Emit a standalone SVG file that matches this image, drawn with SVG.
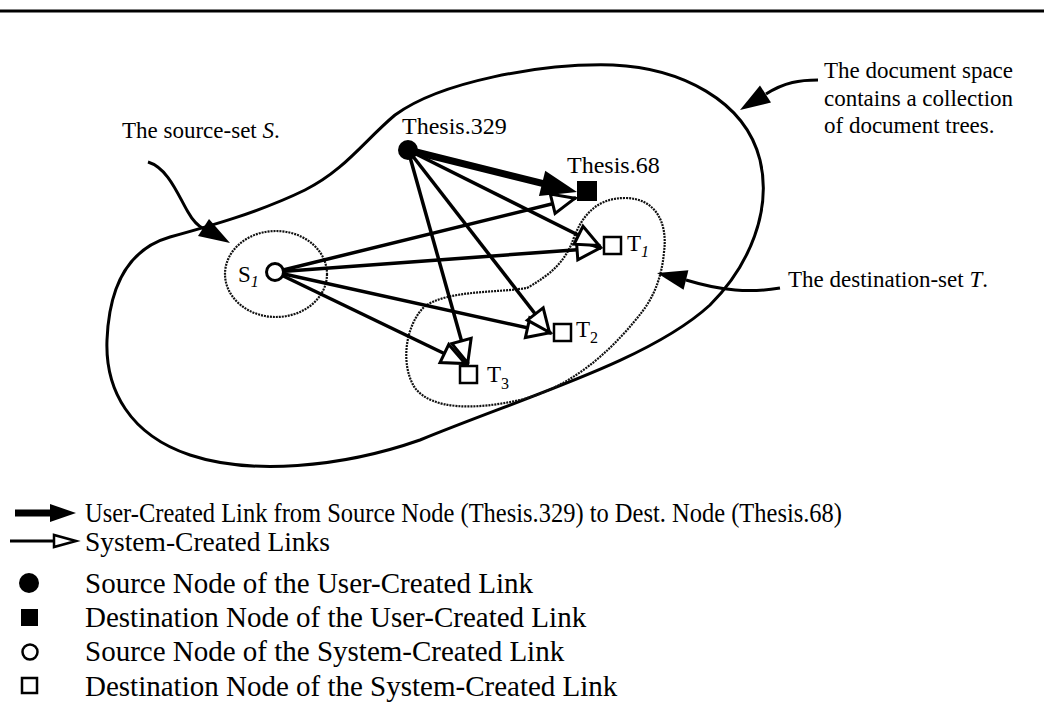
<svg xmlns="http://www.w3.org/2000/svg" width="1044" height="718" viewBox="0 0 1044 718">
  <style>
    .txt { font-family: "Liberation Serif", "Times New Roman", serif; fill: #000; }
    .ann { font-size: 23px; }
    .lbl { font-size: 24px; }
    .leg { font-size: 29px; }
    .leg2 { font-size: 27px; }
    .sys { stroke: #000; stroke-width: 3.5; fill: none; marker-end: url(#openHead); }
    .usr { stroke: #000; stroke-width: 7; fill: none; marker-end: url(#solidHead); }
    .set { fill: none; stroke: #111; stroke-width: 2.2; stroke-dasharray: 2 1; }
    .curve { fill: none; stroke: #000; stroke-width: 3; }
  </style>
  <defs>
    <marker id="openHead" markerUnits="userSpaceOnUse" markerWidth="40" markerHeight="40" viewBox="-30 -20 40 40" refX="0" refY="0" orient="auto" overflow="visible">
      <path d="M-1,0 L-24,-10 L-24,10 Z" fill="#fff" stroke="#000" stroke-width="3"/>
    </marker>
    <marker id="solidHead" markerUnits="userSpaceOnUse" markerWidth="60" markerHeight="40" viewBox="-30 -20 60 40" refX="0" refY="0" orient="auto" overflow="visible">
      <path d="M16,0 L-20,-13 L-20,13 Z" fill="#000"/>
    </marker>
  </defs>

  <rect width="1044" height="718" fill="#fff"/>

  <!-- top rule -->
  <line x1="0" y1="11" x2="1044" y2="11" stroke="#000" stroke-width="3"/>

  <!-- document space outline -->
  <path id="doc-space" class="curve" d="M613,65 C680,68 745,100 760,160 C772,210 750,265 710,305 C650,360 530,395 420,440 C340,468 250,475 190,455 C130,435 105,390 107,340 C109,290 125,250 170,237 C210,226 260,212 305,190 C345,170 365,140 395,115 C440,82 540,63 613,65 Z"/>

  <!-- source set S and destination set T -->
  <ellipse id="source-set" class="set" cx="276" cy="274" rx="51" ry="43"/>
  <path id="dest-set" class="set" d="M527,288 C550,275 565,262 573,240 C582,215 597,198 625,198 C655,198 668,222 664,252 C662,275 655,295 642,312 C620,340 580,385 520,400 C475,410 432,410 415,388 C400,365 405,325 425,306 C450,290 495,293 527,288 Z"/>

  <!-- links -->
  <g id="connectors">
    <line class="sys" x1="275" y1="272" x2="576" y2="198"/>
    <line class="sys" x1="275" y1="272" x2="601" y2="248"/>
    <line class="sys" x1="275" y1="272" x2="551" y2="333"/>
    <line class="sys" x1="275" y1="272" x2="466" y2="364"/>
    <line class="sys" x1="408" y1="150" x2="600" y2="246"/>
    <line class="sys" x1="408" y1="150" x2="550" y2="333"/>
    <line class="sys" x1="408" y1="150" x2="468" y2="364"/>
    <line class="usr" x1="408" y1="150" x2="561.5" y2="188.1"/>
  </g>

  <!-- nodes -->
  <g id="thesis-329">
    <circle cx="408" cy="150" r="10" fill="#000"/>
    <text class="txt lbl" x="402" y="134">Thesis.329</text>
  </g>
  <g id="thesis-68">
    <rect x="577" y="181" width="20" height="20" fill="#000"/>
    <text class="txt lbl" x="567" y="173">Thesis.68</text>
  </g>
  <g id="s1">
    <circle cx="275" cy="272" r="8.5" fill="#fff" stroke="#000" stroke-width="3"/>
    <text class="txt" x="238" y="282" font-size="23">S<tspan font-size="16" font-style="italic" dy="5">1</tspan></text>
  </g>
  <g id="t1">
    <rect x="604" y="237" width="17" height="17" fill="#fff" stroke="#000" stroke-width="2.5"/>
    <text class="txt" x="627" y="251" font-size="23">T<tspan font-size="16" font-style="italic" dy="6">1</tspan></text>
  </g>
  <g id="t2">
    <rect x="554" y="324" width="17" height="17" fill="#fff" stroke="#000" stroke-width="2.5"/>
    <text class="txt" x="576" y="337" font-size="23">T<tspan font-size="16" dy="6">2</tspan></text>
  </g>
  <g id="t3">
    <rect x="460" y="366" width="17" height="17" fill="#fff" stroke="#000" stroke-width="2.5"/>
    <text class="txt" x="487" y="382" font-size="23">T<tspan font-size="16" dy="7">3</tspan></text>
  </g>

  <!-- annotations -->
  <g id="note-source">
    <text class="txt ann" x="122" y="138">The source-set <tspan font-style="italic">S</tspan>.</text>
    <path class="curve" d="M148,162 C168,168 178,195 188,212 C193,221 198,226 204,229"/>
    <polygon points="230,243 198,236 209,219" fill="#000"/>
  </g>
  <g id="note-space">
    <text class="txt ann" x="824" y="78">The document space</text>
    <text class="txt ann" x="824" y="106">contains a collection</text>
    <text class="txt ann" x="824" y="133">of document trees.</text>
    <path class="curve" d="M818,80 C800,80 785,82 766,94"/>
    <polygon points="740,110 771,102.5 760,85.5" fill="#000"/>
  </g>
  <g id="note-dest">
    <text class="txt ann" x="788" y="287">The destination-set <tspan font-style="italic">T</tspan>.</text>
    <path class="curve" d="M780,288 C750,293 722,291 686,280"/>
    <polygon points="657,273 688.4,270.3 683.6,289.7" fill="#000"/>
  </g>

  <!-- legend -->
  <g id="legend">
    <line x1="15" y1="513" x2="52" y2="513" stroke="#000" stroke-width="7"/>
    <polygon points="76,513 50,504 50,522" fill="#000"/>
    <text class="txt leg2" x="85" y="522" textLength="757" lengthAdjust="spacingAndGlyphs">User-Created Link from Source Node (Thesis.329) to Dest. Node (Thesis.68)</text>

    <line x1="10" y1="541" x2="54" y2="541" stroke="#000" stroke-width="3"/>
    <path d="M76,541 L54,535 L54,547 Z" fill="#fff" stroke="#000" stroke-width="2.5"/>
    <text class="txt leg2" x="85" y="551" textLength="245" lengthAdjust="spacingAndGlyphs">System-Created Links</text>

    <circle cx="29" cy="583" r="10" fill="#000"/>
    <text class="txt leg" x="85" y="593">Source Node of the User-Created Link</text>

    <rect x="21" y="609" width="17" height="17" fill="#000"/>
    <text class="txt leg" x="85" y="627">Destination Node of the User-Created Link</text>

    <circle cx="30" cy="652" r="7.5" fill="#fff" stroke="#000" stroke-width="2.5"/>
    <text class="txt leg" x="85" y="661">Source Node of the System-Created Link</text>

    <rect x="22" y="678" width="15" height="15" fill="#fff" stroke="#000" stroke-width="2.5"/>
    <text class="txt leg" x="85" y="696">Destination Node of the System-Created Link</text>
  </g>
</svg>
